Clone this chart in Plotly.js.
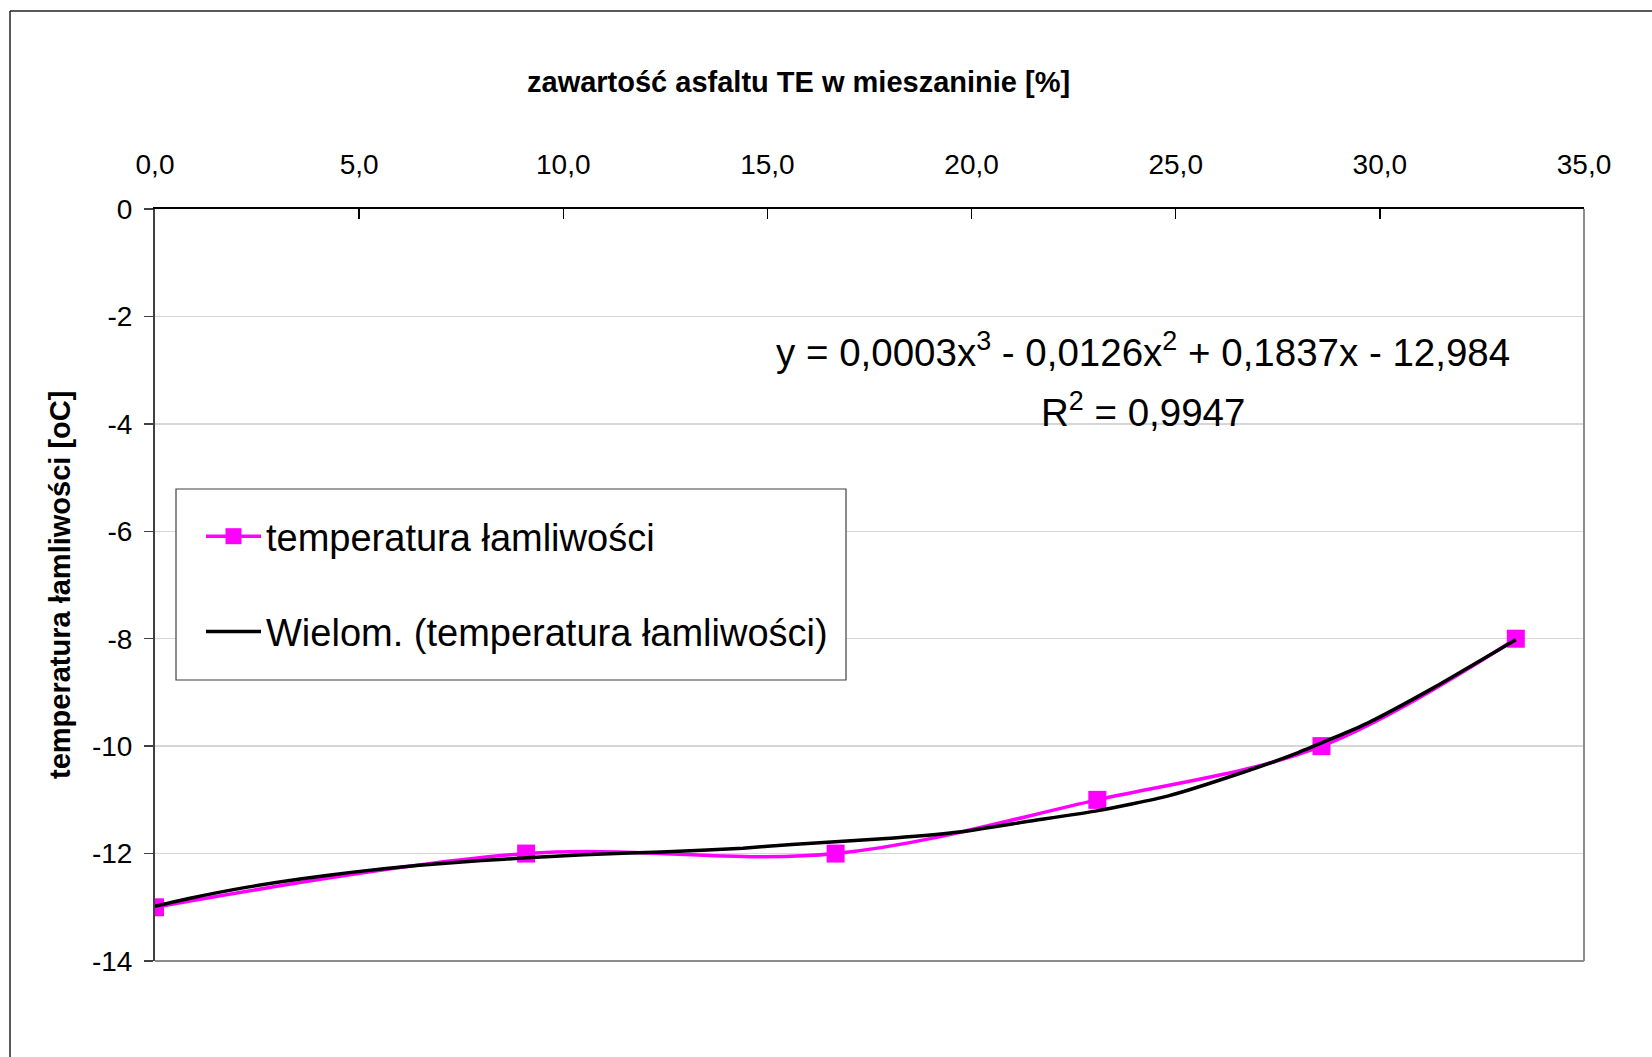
<!DOCTYPE html>
<html>
<head>
<meta charset="utf-8">
<script src="https://cdn.plot.ly/plotly-3.0.1.min.js"></script>
<style>html,body{margin:0;padding:0;background:#fff;}#chart{width:1652px;height:1057px;}</style>
</head>
<body>
<div id="chart"></div>
<script>
// ---- data ----
const asphaltContent = [0, 9.09, 16.67, 23.08, 28.57, 33.33];
const brittleTemp = [-13, -12, -12, -11, -10, -8];

const trendX = [0, 0.8, 2.3, 3.6, 4.8, 6.4, 8.0, 9.1, 10.5, 12.4, 14.4, 15.6, 18.1, 19.7, 21.4, 23.1, 24.8, 26.6, 28.0, 29.7, 31.3, 33.33];
const trendY = [-12.98, -12.84, -12.62, -12.47, -12.35, -12.22, -12.13, -12.08, -12.02, -11.97, -11.90, -11.83, -11.71, -11.60, -11.40, -11.20, -10.93, -10.50, -10.12, -9.57, -8.92, -8.02];

const xTickVals = [0, 5, 10, 15, 20, 25, 30, 35];
const xTickText = ['0,0', '5,0', '10,0', '15,0', '20,0', '25,0', '30,0', '35,0'];
const yTickVals = [0, -2, -4, -6, -8, -10, -12, -14];
const yTickText = ['0', '-2', '-4', '-6', '-8', '-10', '-12', '-14'];

const seriesName = 'temperatura łamliwości';
const trendName = 'Wielom. (temperatura łamliwości)';
const xTitle = 'zawartość asfaltu TE w mieszaninie [%]';
const yTitle = 'temperatura łamliwości [oC]';
const eqText = 'y = 0,0003x<sup>3</sup> - 0,0126x<sup>2</sup> + 0,1837x - 12,984';
const r2Text = 'R<sup>2</sup> = 0,9947';

// ---- geometry (pixels) ----
const W = 1652, H = 1057;
const L = 155, R = 1584, T = 209, B = 961;
const pw = R - L, ph = B - T;
const px = x => (x - L) / pw;
const py = y => (B - y) / ph;

const FONT = 'Liberation Sans, Arial, sans-serif';

const traces = [
  {
    x: asphaltContent, y: brittleTemp, name: seriesName,
    type: 'scatter', mode: 'lines+markers',
    line: {color: '#FF00FF', width: 3.5, shape: 'spline', smoothing: 1},
    marker: {symbol: 'square', size: 18, color: '#FF00FF'},
    legendgroup: 'a'
  },
  {
    x: trendX, y: trendY, name: trendName,
    type: 'scatter', mode: 'lines',
    line: {color: '#000000', width: 3.5, shape: 'spline', smoothing: 0.5},
    legendgroup: 'b'
  }
];

const layout = {
  width: W, height: H,
  margin: {l: L, r: W - R, t: T, b: H - B, pad: 0},
  paper_bgcolor: '#ffffff', plot_bgcolor: '#ffffff',
  font: {family: FONT, color: '#000'},
  showlegend: true,
  xaxis: {
    side: 'top', range: [0, 35], fixedrange: true,
    tickmode: 'array', tickvals: xTickVals, ticktext: xTickText,
    ticks: 'inside', ticklen: 10, tickwidth: 1.5, tickcolor: '#000',
    ticklabelstandoff: 22,
    showline: true, linecolor: '#000', linewidth: 2,
    showgrid: false, zeroline: false,
    tickfont: {family: FONT, size: 28, color: '#000'}
  },
  yaxis: {
    range: [-14, 0], fixedrange: true,
    tickmode: 'array', tickvals: yTickVals, ticktext: yTickText,
    ticks: 'outside', ticklen: 9, tickwidth: 1.5, tickcolor: '#404040',
    ticklabelstandoff: 6,
    showline: true, linecolor: '#404040', linewidth: 2,
    showgrid: true, gridcolor: '#d6d6d6', gridwidth: 1.5, zeroline: false,
    tickfont: {family: FONT, size: 28, color: '#000'}
  },
  legend: {
    x: px(201), y: py(505), xanchor: 'left', yanchor: 'top',
    bgcolor: 'rgba(0,0,0,0)', borderwidth: 0,
    font: {family: FONT, size: 38, color: '#000'},
    itemwidth: 55, tracegroupgap: 43, traceorder: 'grouped',
    itemclick: false, itemdoubleclick: false
  },
  shapes: [
    // legend frame
    {type: 'rect', xref: 'paper', yref: 'paper', x0: px(176), x1: px(846), y0: py(680), y1: py(489),
     line: {color: '#404040', width: 1.2}, fillcolor: '#ffffff', layer: 'above'},
    // right and bottom plot-area border
    {type: 'line', xref: 'paper', yref: 'paper', x0: 1, x1: 1, y0: 0, y1: 1, line: {color: '#8c8c8c', width: 2}},
    {type: 'line', xref: 'paper', yref: 'paper', x0: 0, x1: 1, y0: 0, y1: 0, line: {color: '#8c8c8c', width: 2}},
    // outer chart border (left and top visible)
    {type: 'line', xref: 'paper', yref: 'paper', x0: px(10), x1: px(10), y0: py(H + 5), y1: py(11), line: {color: '#222', width: 1.5}},
    {type: 'line', xref: 'paper', yref: 'paper', x0: px(10), x1: px(W + 5), y0: py(11), y1: py(11), line: {color: '#222', width: 1.5}}
  ],
  annotations: [
    // x axis title (top)
    {xref: 'paper', yref: 'paper', x: px(798), y: py(82), xanchor: 'center', yanchor: 'middle',
     text: xTitle, showarrow: false, font: {family: FONT, size: 29, weight: 'bold', color: '#000'}},
    // y axis title (rotated)
    {xref: 'paper', yref: 'paper', x: px(60), y: py(585), xanchor: 'center', yanchor: 'middle',
     text: yTitle, textangle: -90, showarrow: false, font: {family: FONT, size: 29, weight: 'bold', color: '#000'}},
    // trendline equation
    {xref: 'paper', yref: 'paper', x: px(1143), y: py(350), xanchor: 'center', yanchor: 'middle',
     text: eqText, showarrow: false, font: {family: FONT, size: 38.5, color: '#000'}},
    {xref: 'paper', yref: 'paper', x: px(1143), y: py(410), xanchor: 'center', yanchor: 'middle',
     text: r2Text, showarrow: false, font: {family: FONT, size: 38.5, color: '#000'}}
  ]
};

Plotly.newPlot('chart', traces, layout, {displayModeBar: false, responsive: false, staticPlot: true});
</script>
</body>
</html>
